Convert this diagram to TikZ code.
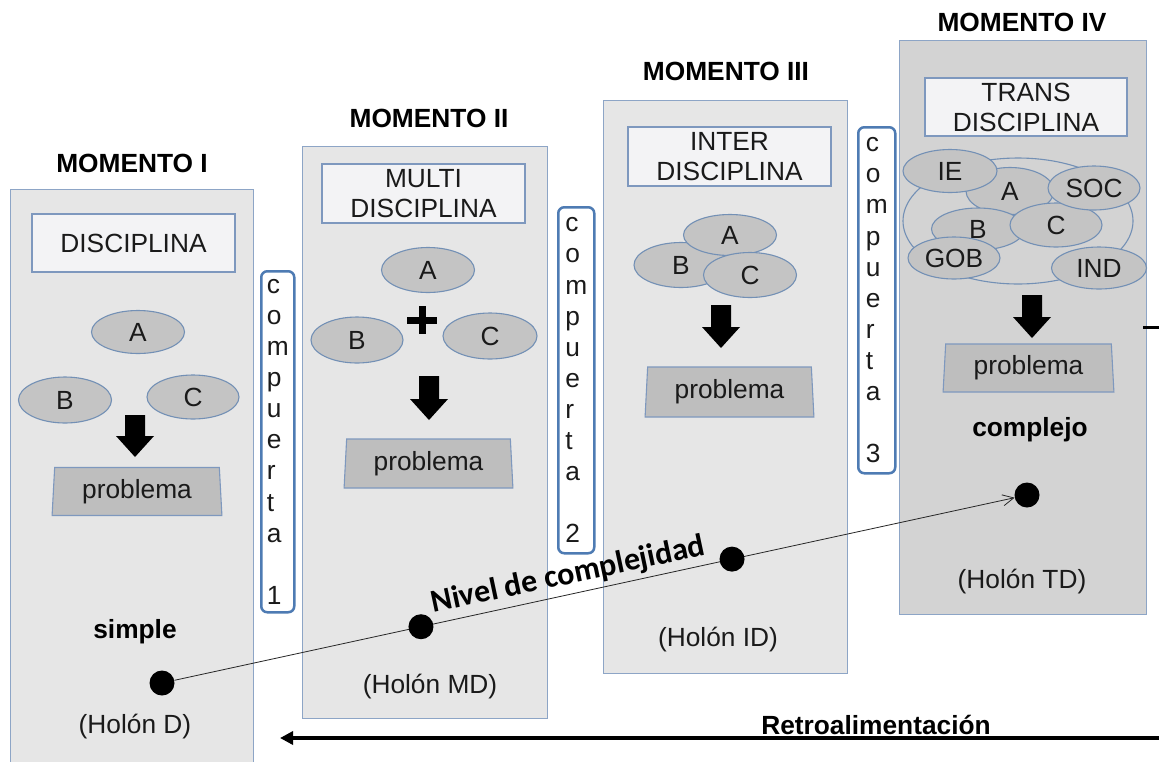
\documentclass[tikz,border=0pt]{standalone}
\usepackage{fontspec}
\setmainfont{Liberation Sans}
\newfontfamily\carlitofont{Carlito}
\usetikzlibrary{shapes.geometric,arrows.meta,calc}

\definecolor{panelfill}{HTML}{E6E6E6}
\definecolor{panelfillB}{HTML}{D3D3D3}
\definecolor{panelline}{HTML}{8DA5C6}
\definecolor{titlefill}{HTML}{F3F3F5}
\definecolor{titleline}{HTML}{7E98BE}
\definecolor{ellfill}{HTML}{C4C4C4}
\definecolor{ellline}{HTML}{7390B5}
\definecolor{probfill}{HTML}{BEBEBE}
\definecolor{gateline}{HTML}{4E7BB3}
\definecolor{txt}{HTML}{1A1A1A}

\newcommand\blockarrowat[3]{%
  \fill[black] (#1-10,#2) -- (#1+10,#2) -- (#1+10,#3-21) -- (#1+19,#3-21) -- (#1,#3) -- (#1-19,#3-21) -- (#1-10,#3-21) -- cycle;}

\tikzset{
 panel/.style={draw=panelline, line width=1.2pt, fill=panelfill, anchor=north west, inner sep=0},
 titlebox/.style={draw=titleline, line width=1.2pt, fill=titlefill, minimum width=203pt, minimum height=58pt, align=center, inner sep=0, text=txt, font=\fontsize{26.3}{30}\selectfont},
 ell/.style={ellipse, draw=ellline, line width=1.1pt, fill=ellfill, minimum width=93pt, minimum height=44pt, inner sep=0, text=txt, font=\fontsize{26.3}{30}\selectfont},
 prob/.style={trapezium, trapezium left angle=86, trapezium right angle=86, trapezium stretches=true, draw=titleline, line width=1.1pt, fill=probfill, minimum width=170pt, minimum height=48pt, inner sep=0, text=txt, font=\fontsize{26.3}{30}\selectfont},
 gate/.style={draw=gateline, line width=2.5pt, rounded corners=6pt, fill=white, inner sep=0, anchor=north west, align=left, text=txt, font=\fontsize{26.3}{31.1}\selectfont},
 lbl/.style={font=\fontsize{26.3}{30}\selectfont, inner sep=0, text=txt},
 hdr/.style={font=\bfseries\fontsize{26.3}{30}\selectfont, inner sep=0, text=black},
 dot/.style={circle, fill=black, minimum size=25pt, inner sep=0},
}

\begin{document}
\begin{tikzpicture}[x=1pt,y=-1pt]
\useasboundingbox (0,0) rectangle (1159,761);
\fill[white] (0,0) rectangle (1159,761);

% headers
\node[hdr] (h1) at (132,163) {MOMENTO I};
\node[hdr] (h2) at (429,118) {MOMENTO II};
\node[hdr] (h3) at (726,71) {MOMENTO III};
\node[hdr] (h4) at (1022,22) {MOMENTO IV};

% panels
\node[panel, minimum width=243pt, minimum height=580pt] (p1) at (10,189) {};
\node[panel, minimum width=245pt, minimum height=572pt] (p2) at (302,146) {};
\node[panel, minimum width=244pt, minimum height=573pt] (p3) at (603,100) {};
\node[panel, fill=panelfillB, minimum width=247pt, minimum height=574pt] (p4) at (899,40) {};

% title boxes
\node[titlebox] (t1) at (133.5,243) {DISCIPLINA};
\node[titlebox, minimum height=59pt] (t2) at (423.5,193.5) {MULTI\\DISCIPLINA};
\node[titlebox, minimum height=59pt] (t3) at (729.5,156.5) {INTER\\DISCIPLINA};
\node[titlebox, minimum width=202pt] (t4) at (1026,107) {TRANS\\DISCIPLINA};

% Momento I ellipses
\node[ell, minimum height=43pt] (a1) at (138,332) {A};
\node[ell, minimum height=46pt] (b1) at (65,400) {B};
\node[ell, minimum width=92pt] (c1) at (193,397) {C};

% Momento II ellipses
\node[ell, minimum height=45pt] (a2) at (428,270) {A};
\node[ell, minimum width=92pt, minimum height=46pt] (b2) at (357,340) {B};
\node[ell, minimum width=94pt, minimum height=46pt] (c2) at (490,336) {C};
\fill[black] (422-15,320-3.5) rectangle (422+15,320+3.5);
\fill[black] (422-3.5,320-14) rectangle (422+3.5,320+14);

% Momento III ellipses
\node[ell, minimum width=94pt, minimum height=45pt] (b3) at (681,265) {B};
\node[ell, minimum height=41pt] (a3) at (730,235) {A};
\node[ell, minimum height=45pt] (c3) at (750,275) {C};

% Momento IV ellipses
\node[ellipse, draw=ellline, line width=1.1pt, minimum width=230pt, minimum height=126pt, inner sep=0] (big) at (1018,221) {};
\node[ell, minimum width=88pt, minimum height=47pt] (a4) at (1010,191) {A};
\node[ell, minimum height=42pt] (b4) at (978,229) {B};
\node[ell, minimum width=92pt] (c4) at (1056,225) {C};
\node[ell, minimum width=92pt] (soc4) at (1094,188) {SOC};
\node[ell, minimum width=94pt, minimum height=43pt] (ie4) at (950,171) {IE};
\node[ell, minimum width=92pt, minimum height=42pt] (gob4) at (954,258) {GOB};
\node[ell, minimum width=95pt, minimum height=42pt] (ind4) at (1099,268) {IND};

% block arrows
\blockarrowat{135}{415}{457}
\blockarrowat{429}{376}{420}
\blockarrowat{721}{305}{348}
\blockarrowat{1032}{295}{338}

% problema boxes
\node[prob] (pr1) at (137,491.5) {problema};
\node[prob, minimum width=169pt, minimum height=49pt] (pr2) at (428.5,463.5) {problema};
\node[prob, minimum width=169pt, minimum height=50pt] (pr3) at (729.5,392) {problema};
\node[prob, minimum width=171pt] (pr4) at (1028.5,368) {problema};

% compuertas
\node[gate, minimum width=33pt, minimum height=341pt] (g1) at (260,270) {c\\o\\m\\p\\u\\e\\r\\t\\a\\[31.1pt]1};
\node[gate, minimum width=36pt, minimum height=346pt] (g2) at (557,206) {c\\o\\m\\p\\u\\e\\r\\t\\a\\[31.1pt]2};
\node[gate, minimum width=37pt, minimum height=346pt] (g3) at (857,126) {c\\o\\m\\p\\u\\e\\r\\t\\a\\[31.1pt]3};

% labels
\node[hdr] (simple) at (135,632) {simple};
\node[hdr] (complejo) at (1030,430) {complejo};
\node[lbl] (hd) at (135,727) {(Hol\'on D)};
\node[lbl] (hmd) at (430,687) {(Hol\'on MD)};
\node[lbl] (hid) at (718,640) {(Hol\'on ID)};
\node[lbl] (htd) at (1022,582) {(Hol\'on TD)};

% complexity line
\node[dot] (d1) at (162,683) {};
\node[dot] (d4) at (1027,495) {};
\draw[line width=0.8pt, draw=black!85, -{Straight Barb[length=11pt,width=11pt]}] (d1) -- (d4);
\node[dot] (d2) at ($(d1)!0.2994!(d4)$) {};
\node[dot] (d3) at ($(d1)!0.659!(d4)$) {};
\node[anchor=base, rotate=12, inner sep=0, font=\carlitofont\bfseries\fontsize{32}{36}\selectfont] (nivel) at ($(d1)!0.474!(d4) + (-2,-10)$) {Nivel de complejidad};

% feedback
\coordinate (rs) at (1159,738);
\coordinate (re) at (280,738);
\draw[line width=3.5pt, -{Triangle[length=13pt,width=13pt]}] (rs) -- (re);
\node[hdr] (retro) at (876,725) {Retroalimentaci\'on};
\coordinate (fs) at (1143,327);
\coordinate (fe) at (1159,327);
\draw[line width=3pt] (fs) -- (fe);
\end{tikzpicture}
\end{document}
